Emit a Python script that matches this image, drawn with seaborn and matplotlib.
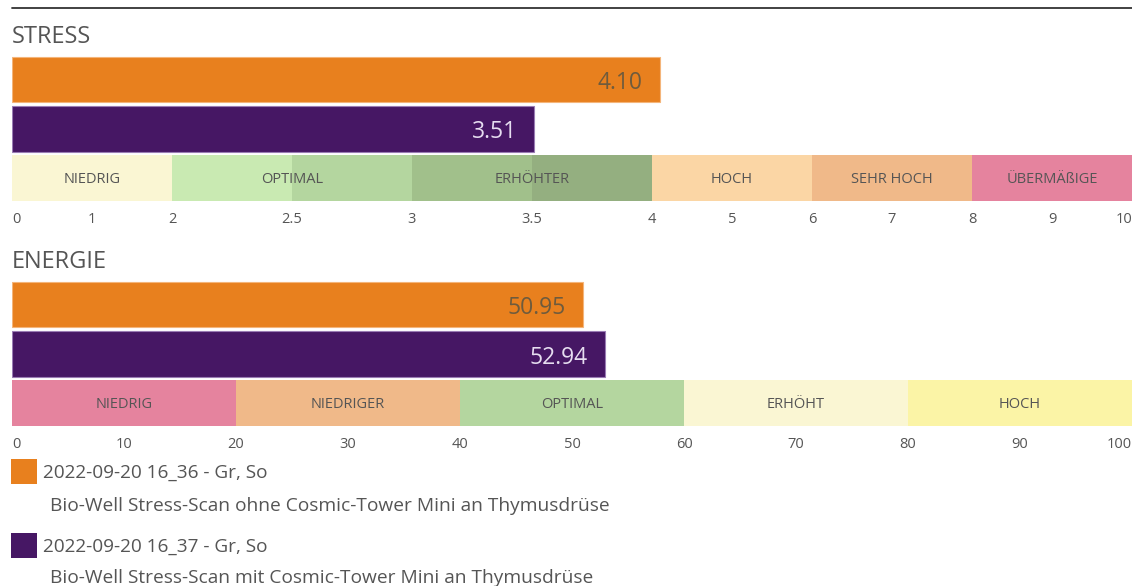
import numpy as np
import pandas as pd
import seaborn as sns
import matplotlib
matplotlib.use('Agg')
import matplotlib.pyplot as plt
from matplotlib.lines import Line2D
from matplotlib.patches import Patch

# Daten
scans = ['2022-09-20 16_36 - Gr, So', '2022-09-20 16_37 - Gr, So']
scan_notes = ['Bio-Well Stress-Scan ohne Cosmic-Tower Mini an Thymusdrüse',
              'Bio-Well Stress-Scan mit Cosmic-Tower Mini an Thymusdrüse']
scan_colors = ['#E8801E', '#461764']
scan_edges = ['#F4B57A', '#9A7CB4']
label_colors = ['#6E5B3D', '#E6DDF0']

stress_values = [4.10, 3.51]
energy_values = [50.95, 52.94]

# Stress-Skala (nicht linear)
stress_breaks = [0, 2, 2.5, 3, 3.5, 4, 5, 6, 7, 8, 9, 10]
stress_pos = [0, 2, 3.5, 5, 6.5, 8, 9, 10, 11, 12, 13, 14]
stress_ticks = [0, 1, 2, 2.5, 3, 3.5, 4, 5, 6, 7, 8, 9, 10]
stress_tick_labels = ['0', '1', '2', '2.5', '3', '3.5', '4', '5', '6', '7', '8', '9', '10']

stress_shade_edges = [0, 2, 2.5, 3, 3.5, 4, 6, 8, 10]
stress_shade_colors = ['#FAF6D3', '#C9EAB2', '#B4D69F', '#A1C08B', '#94AF80',
                       '#FBD6A5', '#F0B989', '#E5839E']
stress_zone_labels = ['NIEDRIG', 'OPTIMAL', 'ERHÖHTER', 'HOCH', 'SEHR HOCH', 'ÜBERMÄßIGE']
stress_zone_edges = [0, 2, 3, 4, 6, 8, 10]

energy_ticks = [0, 10, 20, 30, 40, 50, 60, 70, 80, 90, 100]
energy_zone_labels = ['NIEDRIG', 'NIEDRIGER', 'OPTIMAL', 'ERHÖHT', 'HOCH']
energy_zone_edges = [0, 20, 40, 60, 80, 100]
energy_zone_colors = ['#E5839E', '#F0B989', '#B4D69F', '#FAF6D3', '#FBF4A6']

W, H = 1132, 586
TEXT = '#555555'
ROW_PX = 148 / 3

sns.set_theme(style='white')
plt.rcParams['font.family'] = ['Open Sans', 'DejaVu Sans']

fig = plt.figure(figsize=(W / 100, H / 100), dpi=100)


def px_axes(x0, y0, x1, y1):
    return fig.add_axes([x0 / W, 1 - y1 / H, (x1 - x0) / W, (y1 - y0) / H])


def fwd(x):
    return np.interp(x, stress_breaks, stress_pos)


def inv(x):
    return np.interp(x, stress_pos, stress_breaks)


def style_ticks(ax, ticks, tick_labels):
    ax.set_xticks(ticks)
    ax.set_xticklabels(tick_labels, fontsize=10.5, color=TEXT)
    ax.tick_params(axis='x', length=0, pad=6.5)
    labels = ax.get_xticklabels()
    labels[0].set_ha('left')
    labels[-1].set_ha('right')


def draw_section(ax, values, shade_edges, shade_colors, zone_edges, zone_labels, xmax):
    df = pd.DataFrame({'scan': scans, 'value': values})
    sns.barplot(data=df, x='value', y='scan', hue='scan', palette=scan_colors,
                orient='h', width=0.92, ax=ax, legend=False, saturation=1)
    for p, ec in zip(ax.patches, scan_edges):
        p.set_edgecolor(ec)
        p.set_linewidth(0.8)
    # Zonen-Band
    starts = shade_edges[:-1]
    widths = np.diff(shade_edges)
    ax.barh([2] * len(starts), widths, left=starts, height=0.93,
            color=shade_colors, linewidth=0)
    for lab, a, b in zip(zone_labels, zone_edges[:-1], zone_edges[1:]):
        ax.text((a + b) / 2, 2 + 5 / ROW_PX, lab, ha='center', va='baseline',
                fontsize=10.5, color=TEXT)
    # Wertbeschriftung
    for i, v in enumerate(values):
        ax.annotate(f'{v:.2f}', xy=(v, i), xytext=(-17, -9.5), textcoords='offset pixels',
                    ha='right', va='baseline', fontsize=16.5, color=label_colors[i])
    ax.set_xlim(0, xmax)
    ax.set_ylim(2.5, -0.5)
    ax.set_yticks([])
    ax.set_ylabel('')
    ax.set_xlabel('')
    for s in ax.spines.values():
        s.set_visible(False)
    ax.patch.set_alpha(0)


# STRESS
ax1 = px_axes(12, 55, 1132, 203)
draw_section(ax1, stress_values, stress_shade_edges, stress_shade_colors,
             stress_zone_edges, stress_zone_labels, 10)
ax1.set_xscale('function', functions=(fwd, inv))
ax1.set_xlim(0, 10)
style_ticks(ax1, stress_ticks, stress_tick_labels)

# ENERGIE
ax2 = px_axes(12, 280, 1132, 428)
draw_section(ax2, energy_values, energy_zone_edges, energy_zone_colors,
             energy_zone_edges, energy_zone_labels, 100)
style_ticks(ax2, energy_ticks, [str(t) for t in energy_ticks])

# Titel
fig.text(12 / W, 1 - 43 / H, 'STRESS', ha='left', va='baseline', fontsize=17, color=TEXT)
fig.text(12 / W, 1 - 268 / H, 'ENERGIE', ha='left', va='baseline', fontsize=17, color=TEXT)

# Linie oben
fig.add_artist(Line2D([12 / W, 1], [1 - 8 / H, 1 - 8 / H], color='#333333', lw=1.3))

# Legende
handles = [Patch(facecolor=c, edgecolor='none') for c in scan_colors]
fig.legend(handles, scans, loc='upper left', bbox_to_anchor=(11 / W, 1 - 459 / H),
           frameon=False, fontsize=13.7, handlelength=1.36, handleheight=1.67,
           handletextpad=0.3, labelspacing=2.55, borderpad=0, borderaxespad=0,
           labelcolor=TEXT)
fig.text(50 / W, 1 - 511 / H, scan_notes[0], ha='left', va='baseline', fontsize=13.8, color=TEXT)
fig.text(50 / W, 1 - 583 / H, scan_notes[1], ha='left', va='baseline', fontsize=13.8, color=TEXT)

fig.savefig('out.png', dpi=100)
